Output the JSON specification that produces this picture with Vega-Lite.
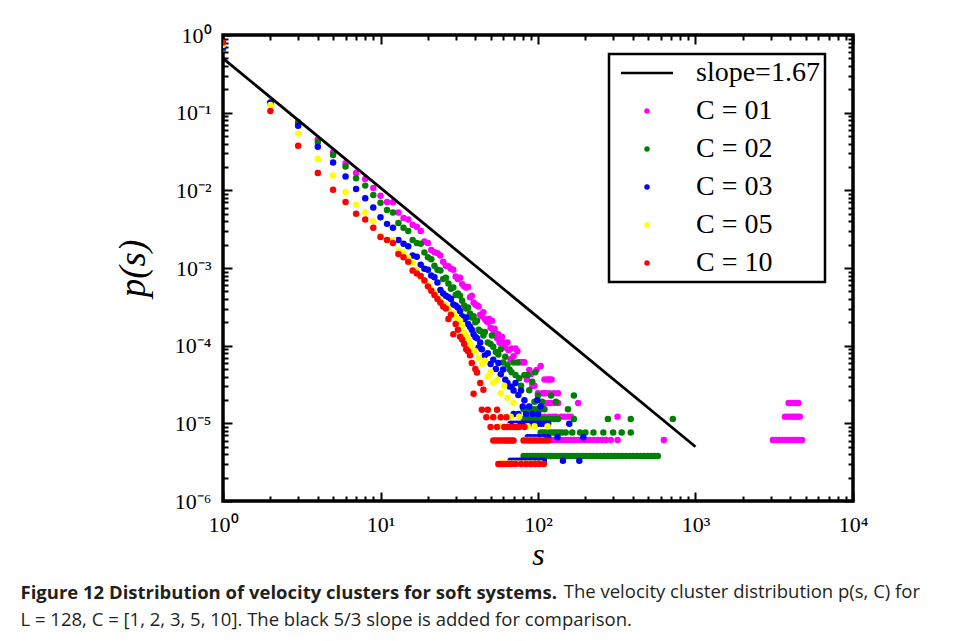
{
  "$schema": "https://vega.github.io/schema/vega-lite/v6.json",
  "background": "white",
  "padding": {"left": 18, "top": 22, "right": 5, "bottom": 5},
  "config": {
    "view": {"stroke": "black", "strokeWidth": 3.5},
    "axis": {"grid": false, "domain": false, "tickColor": "black", "tickWidth": 2, "labelFont": "Liberation Serif", "labelFontSize": 22, "labelColor": "black", "titleColor": "black", "labelFlush": false, "labelOverlap": false},
    "legend": {"strokeWidth": 2.5}
  },
  "datasets": {
    "slope": [{"s": 1, "p": 0.5}, {"s": 1000, "p": 5e-6}],
    "pts": [
      {"c":"01","s":1,"p":0.66},{"c":"01","s":2,"p":0.135},{"c":"01","s":3,"p":0.076},{"c":"01","s":4,"p":0.045},{"c":"01","s":5,"p":0.031},{"c":"01","s":6,"p":0.0223},{"c":"01","s":7,"p":0.0167},{"c":"01","s":8,"p":0.014},{"c":"01","s":9,"p":0.0107},{"c":"01","s":10,"p":0.0085},
      {"c":"01","s":11,"p":0.0071},{"c":"01","s":12,"p":0.007},{"c":"01","s":13,"p":0.0052},{"c":"01","s":14,"p":0.0044},{"c":"01","s":15,"p":0.0042},{"c":"01","s":16,"p":0.0036},{"c":"01","s":17,"p":0.0034},{"c":"01","s":18,"p":0.003},{"c":"01","s":19,"p":0.0022},{"c":"01","s":20,"p":0.0021},
      {"c":"01","s":21,"p":0.0017},{"c":"01","s":22,"p":0.0016},{"c":"01","s":23,"p":0.00155},{"c":"01","s":24,"p":0.00145},{"c":"01","s":25,"p":0.0012},{"c":"01","s":26,"p":0.00107},{"c":"01","s":27,"p":0.00105},{"c":"01","s":28,"p":0.00098},{"c":"01","s":29,"p":0.00095},{"c":"01","s":30,"p":0.00078},
      {"c":"01","s":31,"p":0.00072},{"c":"01","s":32,"p":0.00075},{"c":"01","s":33,"p":0.00062},{"c":"01","s":34,"p":0.00058},{"c":"01","s":35,"p":0.00056},{"c":"01","s":36,"p":0.00057},{"c":"01","s":37,"p":0.00042},{"c":"01","s":38,"p":0.00044},{"c":"01","s":39,"p":0.00036},{"c":"01","s":40,"p":0.00034},
      {"c":"01","s":41,"p":0.00033},{"c":"01","s":42,"p":0.00032},{"c":"01","s":43,"p":0.00025},{"c":"01","s":44,"p":0.00024},{"c":"01","s":45,"p":0.00027},{"c":"01","s":46,"p":0.00022},{"c":"01","s":47,"p":0.00021},{"c":"01","s":48,"p":0.0002},{"c":"01","s":49,"p":0.00022},{"c":"01","s":50,"p":0.00017},
      {"c":"01","s":51,"p":0.00021},{"c":"01","s":52,"p":0.00016},{"c":"01","s":53,"p":0.000165},{"c":"01","s":54,"p":0.00014},{"c":"01","s":55,"p":0.000125},{"c":"01","s":56,"p":0.00014},{"c":"01","s":57,"p":0.00011},{"c":"01","s":58,"p":0.000108},{"c":"01","s":59,"p":0.00013},{"c":"01","s":60,"p":0.00011},
      {"c":"01","s":62,"p":0.000095},{"c":"01","s":64,"p":0.00011},{"c":"01","s":65,"p":0.0000875},{"c":"01","s":67,"p":0.000067},{"c":"01","s":68,"p":0.000092},{"c":"01","s":70,"p":0.000073},{"c":"01","s":72,"p":0.000092},{"c":"01","s":74,"p":0.000085},{"c":"01","s":76,"p":0.000061},{"c":"01","s":78,"p":0.000061},
      {"c":"01","s":80,"p":0.000061},{"c":"01","s":82,"p":0.000061},{"c":"01","s":85,"p":0.0000366},{"c":"01","s":88,"p":0.0000488},{"c":"01","s":90,"p":0.0000427},{"c":"01","s":92,"p":0.0000305},{"c":"01","s":95,"p":0.0000305},{"c":"01","s":98,"p":0.0000488},{"c":"01","s":100,"p":0.0000244},{"c":"01","s":104,"p":0.0000549},
      {"c":"01","s":107,"p":0.0000244},{"c":"01","s":110,"p":0.0000366},{"c":"01","s":115,"p":0.0000366},{"c":"01","s":118,"p":0.0000366},{"c":"01","s":122,"p":0.0000366},
      {"c":"01","s":109,"p":0.0000244},{"c":"01","s":112,"p":0.0000244},{"c":"01","s":118,"p":0.0000244},{"c":"01","s":126,"p":0.0000244},{"c":"01","s":134,"p":0.0000244},
      {"c":"01","s":112,"p":0.0000183},{"c":"01","s":116,"p":0.0000183},{"c":"01","s":121,"p":0.0000183},{"c":"01","s":128,"p":0.0000183},{"c":"01","s":134,"p":0.0000183},{"c":"01","s":180,"p":0.0000183},
      {"c":"01","s":95,"p":0.0000122},{"c":"01","s":100,"p":0.0000122},{"c":"01","s":103,"p":0.0000122},{"c":"01","s":110,"p":0.0000122},{"c":"01","s":118,"p":0.0000122},{"c":"01","s":125,"p":0.0000122},{"c":"01","s":130,"p":0.0000122},{"c":"01","s":140,"p":0.0000122},{"c":"01","s":147,"p":0.0000122},{"c":"01","s":155,"p":0.0000122},{"c":"01","s":162,"p":0.0000122},{"c":"01","s":320,"p":0.0000122},
      {"c":"01","s":109,"p":0.0000061},{"c":"01","s":113,"p":0.0000061},{"c":"01","s":117,"p":0.0000061},{"c":"01","s":121,"p":0.0000061},{"c":"01","s":126,"p":0.0000061},{"c":"01","s":131,"p":0.0000061},{"c":"01","s":136,"p":0.0000061},{"c":"01","s":142,"p":0.0000061},{"c":"01","s":148,"p":0.0000061},{"c":"01","s":155,"p":0.0000061},{"c":"01","s":162,"p":0.0000061},{"c":"01","s":170,"p":0.0000061},
      {"c":"01","s":180,"p":0.0000061},{"c":"01","s":190,"p":0.0000061},{"c":"01","s":200,"p":0.0000061},{"c":"01","s":212,"p":0.0000061},{"c":"01","s":225,"p":0.0000061},{"c":"01","s":240,"p":0.0000061},{"c":"01","s":255,"p":0.0000061},{"c":"01","s":270,"p":0.0000061},{"c":"01","s":290,"p":0.0000061},{"c":"01","s":320,"p":0.0000061},{"c":"01","s":630,"p":0.0000061},
      {"c":"01","s":3100,"p":0.0000061},{"c":"01","s":3250,"p":0.0000061},{"c":"01","s":3400,"p":0.0000061},{"c":"01","s":3550,"p":0.0000061},{"c":"01","s":3700,"p":0.0000061},{"c":"01","s":3850,"p":0.0000061},{"c":"01","s":4000,"p":0.0000061},{"c":"01","s":4150,"p":0.0000061},{"c":"01","s":4300,"p":0.0000061},{"c":"01","s":4450,"p":0.0000061},{"c":"01","s":4600,"p":0.0000061},{"c":"01","s":4750,"p":0.0000061},
      {"c":"01","s":3700,"p":0.0000122},{"c":"01","s":3850,"p":0.0000122},{"c":"01","s":4000,"p":0.0000122},{"c":"01","s":4150,"p":0.0000122},{"c":"01","s":4300,"p":0.0000122},{"c":"01","s":4450,"p":0.0000122},{"c":"01","s":4600,"p":0.0000122},
      {"c":"01","s":3900,"p":0.0000183},{"c":"01","s":4050,"p":0.0000183},{"c":"01","s":4200,"p":0.0000183},{"c":"01","s":4350,"p":0.0000183},{"c":"01","s":4500,"p":0.0000183},

      {"c":"02","s":1,"p":0.67},{"c":"02","s":2,"p":0.135},{"c":"02","s":3,"p":0.074},{"c":"02","s":4,"p":0.042},{"c":"02","s":5,"p":0.0285},{"c":"02","s":6,"p":0.0202},{"c":"02","s":7,"p":0.0143},{"c":"02","s":8,"p":0.0115},{"c":"02","s":9,"p":0.0087},{"c":"02","s":10,"p":0.0069},
      {"c":"02","s":11,"p":0.0056},{"c":"02","s":12,"p":0.0052},{"c":"02","s":13,"p":0.0038},{"c":"02","s":14,"p":0.0033},{"c":"02","s":15,"p":0.003},{"c":"02","s":16,"p":0.0023},{"c":"02","s":17,"p":0.0021},{"c":"02","s":18,"p":0.00205},{"c":"02","s":19,"p":0.00158},{"c":"02","s":20,"p":0.00138},
      {"c":"02","s":21,"p":0.0013},{"c":"02","s":22,"p":0.00107},{"c":"02","s":23,"p":0.00095},{"c":"02","s":24,"p":0.00093},{"c":"02","s":25,"p":0.00072},{"c":"02","s":26,"p":0.00075},{"c":"02","s":27,"p":0.00063},{"c":"02","s":28,"p":0.00054},{"c":"02","s":29,"p":0.00056},{"c":"02","s":30,"p":0.00045},
      {"c":"02","s":31,"p":0.00047},{"c":"02","s":32,"p":0.00044},{"c":"02","s":33,"p":0.00038},{"c":"02","s":34,"p":0.00033},{"c":"02","s":35,"p":0.0003},{"c":"02","s":36,"p":0.00031},{"c":"02","s":37,"p":0.00026},{"c":"02","s":38,"p":0.00023},{"c":"02","s":39,"p":0.00024},{"c":"02","s":40,"p":0.0002},
      {"c":"02","s":41,"p":0.00021},{"c":"02","s":42,"p":0.00016},{"c":"02","s":43,"p":0.000155},{"c":"02","s":45,"p":0.000135},{"c":"02","s":46,"p":0.00015},{"c":"02","s":48,"p":0.00011},{"c":"02","s":50,"p":0.000105},{"c":"02","s":51,"p":0.000135},{"c":"02","s":52,"p":0.000097},{"c":"02","s":54,"p":0.000083},
      {"c":"02","s":56,"p":0.000077},{"c":"02","s":58,"p":0.00009},{"c":"02","s":60,"p":0.0000608},{"c":"02","s":62,"p":0.000072},{"c":"02","s":64,"p":0.000057},{"c":"02","s":66,"p":0.0000494},{"c":"02","s":68,"p":0.0000456},{"c":"02","s":70,"p":0.0000608},{"c":"02","s":72,"p":0.0000418},{"c":"02","s":74,"p":0.0000608},
      {"c":"02","s":76,"p":0.000038},{"c":"02","s":78,"p":0.0000304},{"c":"02","s":82,"p":0.0000418},{"c":"02","s":86,"p":0.0000418},{"c":"02","s":88,"p":0.0000266},{"c":"02","s":92,"p":0.0000342},{"c":"02","s":96,"p":0.0000456},{"c":"02","s":100,"p":0.0000228},
      {"c":"02","s":95,"p":0.000019},{"c":"02","s":106,"p":0.000019},{"c":"02","s":130,"p":0.000019},{"c":"02","s":169,"p":0.0000228},{"c":"02","s":121,"p":0.0000228},
      {"c":"02","s":81,"p":0.0000152},{"c":"02","s":85,"p":0.0000152},{"c":"02","s":90,"p":0.0000152},{"c":"02","s":95,"p":0.0000152},{"c":"02","s":100,"p":0.0000152},{"c":"02","s":105,"p":0.0000152},{"c":"02","s":110,"p":0.0000152},{"c":"02","s":155,"p":0.0000152},
      {"c":"02","s":81,"p":0.0000114},{"c":"02","s":84,"p":0.0000114},{"c":"02","s":87,"p":0.0000114},{"c":"02","s":90,"p":0.0000114},{"c":"02","s":94,"p":0.0000114},{"c":"02","s":98,"p":0.0000114},{"c":"02","s":102,"p":0.0000114},{"c":"02","s":106,"p":0.0000114},{"c":"02","s":110,"p":0.0000114},{"c":"02","s":115,"p":0.0000114},{"c":"02","s":120,"p":0.0000114},{"c":"02","s":127,"p":0.0000114},{"c":"02","s":134,"p":0.0000114},{"c":"02","s":169,"p":0.0000114},{"c":"02","s":278,"p":0.0000114},{"c":"02","s":388,"p":0.0000114},{"c":"02","s":718,"p":0.0000114},
      {"c":"02","s":104,"p":0.0000076},{"c":"02","s":108,"p":0.0000076},{"c":"02","s":112,"p":0.0000076},{"c":"02","s":116,"p":0.0000076},{"c":"02","s":120,"p":0.0000076},{"c":"02","s":125,"p":0.0000076},{"c":"02","s":130,"p":0.0000076},{"c":"02","s":136,"p":0.0000076},{"c":"02","s":142,"p":0.0000076},{"c":"02","s":150,"p":0.0000076},{"c":"02","s":165,"p":0.0000076},{"c":"02","s":185,"p":0.0000076},{"c":"02","s":200,"p":0.0000076},{"c":"02","s":225,"p":0.0000076},{"c":"02","s":260,"p":0.0000076},{"c":"02","s":300,"p":0.0000076},{"c":"02","s":340,"p":0.0000076},{"c":"02","s":388,"p":0.0000076},
      {"c":"02","s":81,"p":0.0000038},{"c":"02","s":85,"p":0.0000038},{"c":"02","s":89,"p":0.0000038},{"c":"02","s":93,"p":0.0000038},{"c":"02","s":97,"p":0.0000038},{"c":"02","s":101,"p":0.0000038},{"c":"02","s":106,"p":0.0000038},{"c":"02","s":111,"p":0.0000038},{"c":"02","s":116,"p":0.0000038},{"c":"02","s":121,"p":0.0000038},{"c":"02","s":127,"p":0.0000038},{"c":"02","s":133,"p":0.0000038},{"c":"02","s":139,"p":0.0000038},{"c":"02","s":146,"p":0.0000038},
      {"c":"02","s":153,"p":0.0000038},{"c":"02","s":160,"p":0.0000038},{"c":"02","s":168,"p":0.0000038},{"c":"02","s":176,"p":0.0000038},{"c":"02","s":185,"p":0.0000038},{"c":"02","s":194,"p":0.0000038},{"c":"02","s":204,"p":0.0000038},{"c":"02","s":214,"p":0.0000038},{"c":"02","s":225,"p":0.0000038},{"c":"02","s":237,"p":0.0000038},{"c":"02","s":250,"p":0.0000038},{"c":"02","s":263,"p":0.0000038},{"c":"02","s":277,"p":0.0000038},
      {"c":"02","s":292,"p":0.0000038},{"c":"02","s":308,"p":0.0000038},{"c":"02","s":325,"p":0.0000038},{"c":"02","s":343,"p":0.0000038},{"c":"02","s":362,"p":0.0000038},{"c":"02","s":382,"p":0.0000038},{"c":"02","s":403,"p":0.0000038},{"c":"02","s":425,"p":0.0000038},{"c":"02","s":448,"p":0.0000038},{"c":"02","s":472,"p":0.0000038},{"c":"02","s":498,"p":0.0000038},{"c":"02","s":525,"p":0.0000038},{"c":"02","s":550,"p":0.0000038},{"c":"02","s":576,"p":0.0000038},

      {"c":"03","s":1,"p":0.7},{"c":"03","s":2,"p":0.133},{"c":"03","s":3,"p":0.068},{"c":"03","s":4,"p":0.0365},{"c":"03","s":5,"p":0.0229},{"c":"03","s":6,"p":0.0151},{"c":"03","s":7,"p":0.0104},{"c":"03","s":8,"p":0.0079},{"c":"03","s":9,"p":0.006},{"c":"03","s":10,"p":0.0045},
      {"c":"03","s":11,"p":0.0037},{"c":"03","s":12,"p":0.0033},{"c":"03","s":13,"p":0.0023},{"c":"03","s":14,"p":0.00205},{"c":"03","s":15,"p":0.0019},{"c":"03","s":16,"p":0.00145},{"c":"03","s":17,"p":0.0014},{"c":"03","s":18,"p":0.0011},{"c":"03","s":19,"p":0.00098},{"c":"03","s":20,"p":0.00095},
      {"c":"03","s":21,"p":0.0008},{"c":"03","s":22,"p":0.00076},{"c":"03","s":23,"p":0.00065},{"c":"03","s":24,"p":0.00052},{"c":"03","s":25,"p":0.00047},{"c":"03","s":26,"p":0.00044},{"c":"03","s":27,"p":0.00042},{"c":"03","s":28,"p":0.0004},{"c":"03","s":29,"p":0.00034},{"c":"03","s":30,"p":0.00033},
      {"c":"03","s":31,"p":0.00031},{"c":"03","s":32,"p":0.00028},{"c":"03","s":33,"p":0.00024},{"c":"03","s":34,"p":0.00022},{"c":"03","s":35,"p":0.00023},{"c":"03","s":36,"p":0.00019},{"c":"03","s":37,"p":0.000175},{"c":"03","s":38,"p":0.00016},{"c":"03","s":39,"p":0.00014},{"c":"03","s":40,"p":0.000129},
      {"c":"03","s":41,"p":0.000125},{"c":"03","s":42,"p":0.000095},{"c":"03","s":43,"p":0.00011},{"c":"03","s":44,"p":0.00009},{"c":"03","s":46,"p":0.000075},{"c":"03","s":48,"p":0.00008},{"c":"03","s":50,"p":0.000058},{"c":"03","s":52,"p":0.000066},{"c":"03","s":54,"p":0.00005},{"c":"03","s":56,"p":0.00006},
      {"c":"03","s":58,"p":0.0000429},{"c":"03","s":60,"p":0.0000495},{"c":"03","s":62,"p":0.0000363},{"c":"03","s":64,"p":0.000033},{"c":"03","s":66,"p":0.0000297},{"c":"03","s":68,"p":0.0000297},{"c":"03","s":70,"p":0.0000264},{"c":"03","s":72,"p":0.000033},{"c":"03","s":75,"p":0.0000231},{"c":"03","s":78,"p":0.0000264},
      {"c":"03","s":82,"p":0.0000198},{"c":"03","s":88,"p":0.0000165},{"c":"03","s":99,"p":0.0000198},
      {"c":"03","s":80,"p":0.0000165},{"c":"03","s":104,"p":0.0000165},
      {"c":"03","s":70,"p":0.0000132},{"c":"03","s":75,"p":0.0000132},{"c":"03","s":84,"p":0.0000132},{"c":"03","s":92,"p":0.0000132},{"c":"03","s":100,"p":0.0000132},
      {"c":"03","s":67,"p":0.0000099},{"c":"03","s":70,"p":0.0000099},{"c":"03","s":73,"p":0.0000099},{"c":"03","s":76,"p":0.0000099},{"c":"03","s":80,"p":0.0000099},{"c":"03","s":84,"p":0.0000099},{"c":"03","s":88,"p":0.0000099},{"c":"03","s":92,"p":0.0000099},{"c":"03","s":96,"p":0.0000099},{"c":"03","s":100,"p":0.0000099},{"c":"03","s":105,"p":0.0000099},{"c":"03","s":110,"p":0.0000099},{"c":"03","s":116,"p":0.0000099},{"c":"03","s":158,"p":0.0000099},
      {"c":"03","s":86,"p":0.0000066},{"c":"03","s":90,"p":0.0000066},{"c":"03","s":95,"p":0.0000066},{"c":"03","s":100,"p":0.0000066},{"c":"03","s":105,"p":0.0000066},{"c":"03","s":110,"p":0.0000066},{"c":"03","s":116,"p":0.0000066},{"c":"03","s":133,"p":0.0000066},{"c":"03","s":194,"p":0.0000066},
      {"c":"03","s":67,"p":0.0000033},{"c":"03","s":70,"p":0.0000033},{"c":"03","s":73,"p":0.0000033},{"c":"03","s":76,"p":0.0000033},{"c":"03","s":79,"p":0.0000033},{"c":"03","s":82,"p":0.0000033},{"c":"03","s":86,"p":0.0000033},{"c":"03","s":90,"p":0.0000033},{"c":"03","s":94,"p":0.0000033},{"c":"03","s":98,"p":0.0000033},{"c":"03","s":102,"p":0.0000033},{"c":"03","s":106,"p":0.0000033},{"c":"03","s":109,"p":0.0000033},{"c":"03","s":144,"p":0.0000033},{"c":"03","s":183,"p":0.0000033},

      {"c":"05","s":1,"p":0.75},{"c":"05","s":2,"p":0.126},{"c":"05","s":3,"p":0.054},{"c":"05","s":4,"p":0.0253},{"c":"05","s":5,"p":0.0155},{"c":"05","s":6,"p":0.0095},{"c":"05","s":7,"p":0.0065},{"c":"05","s":8,"p":0.0052},{"c":"05","s":9,"p":0.004},{"c":"05","s":10,"p":0.0026},
      {"c":"05","s":11,"p":0.0023},{"c":"05","s":12,"p":0.0023},{"c":"05","s":13,"p":0.00166},{"c":"05","s":14,"p":0.00155},{"c":"05","s":15,"p":0.00135},{"c":"05","s":16,"p":0.00117},{"c":"05","s":17,"p":0.00095},{"c":"05","s":18,"p":0.00076},{"c":"05","s":19,"p":0.0007},{"c":"05","s":20,"p":0.00062},
      {"c":"05","s":21,"p":0.00054},{"c":"05","s":22,"p":0.00048},{"c":"05","s":23,"p":0.00042},{"c":"05","s":24,"p":0.00038},{"c":"05","s":25,"p":0.00034},{"c":"05","s":26,"p":0.00033},{"c":"05","s":27,"p":0.0003},{"c":"05","s":28,"p":0.00027},{"c":"05","s":29,"p":0.00026},{"c":"05","s":30,"p":0.00023},
      {"c":"05","s":31,"p":0.00022},{"c":"05","s":32,"p":0.00021},{"c":"05","s":33,"p":0.00018},{"c":"05","s":34,"p":0.000148},{"c":"05","s":35,"p":0.00013},{"c":"05","s":36,"p":0.00012},{"c":"05","s":37,"p":0.000105},{"c":"05","s":38,"p":0.00009},{"c":"05","s":40,"p":0.000085},{"c":"05","s":42,"p":0.00007},
      {"c":"05","s":44,"p":0.000058},{"c":"05","s":46,"p":0.000064},{"c":"05","s":48,"p":0.0000397},{"c":"05","s":50,"p":0.0000458},{"c":"05","s":52,"p":0.0000336},{"c":"05","s":55,"p":0.0000366},{"c":"05","s":58,"p":0.0000244},{"c":"05","s":61,"p":0.0000305},{"c":"05","s":64,"p":0.0000214},{"c":"05","s":70,"p":0.0000183},
      {"c":"05","s":52,"p":0.0000122},{"c":"05","s":60,"p":0.0000122},{"c":"05","s":67,"p":0.0000122},{"c":"05","s":76,"p":0.0000122},
      {"c":"05","s":58,"p":0.00000915},{"c":"05","s":64,"p":0.00000915},{"c":"05","s":72,"p":0.00000915},{"c":"05","s":86,"p":0.00000915},{"c":"05","s":95,"p":0.00000915},{"c":"05","s":115,"p":0.00000915},
      {"c":"05","s":81,"p":0.0000061},{"c":"05","s":84,"p":0.0000061},{"c":"05","s":87,"p":0.0000061},{"c":"05","s":90,"p":0.0000061},{"c":"05","s":93,"p":0.0000061},{"c":"05","s":96,"p":0.0000061},{"c":"05","s":99,"p":0.0000061},{"c":"05","s":106,"p":0.0000061},
      {"c":"05","s":58,"p":0.00000305},{"c":"05","s":61,"p":0.00000305},{"c":"05","s":64,"p":0.00000305},{"c":"05","s":67,"p":0.00000305},{"c":"05","s":70,"p":0.00000305},{"c":"05","s":73,"p":0.00000305},{"c":"05","s":77,"p":0.00000305},{"c":"05","s":81,"p":0.00000305},{"c":"05","s":85,"p":0.00000305},{"c":"05","s":89,"p":0.00000305},{"c":"05","s":93,"p":0.00000305},{"c":"05","s":98,"p":0.00000305},{"c":"05","s":104,"p":0.00000305},

      {"c":"10","s":1,"p":0.8},{"c":"10","s":2,"p":0.105},{"c":"10","s":3,"p":0.0376},{"c":"10","s":4,"p":0.0167},{"c":"10","s":5,"p":0.0102},{"c":"10","s":6,"p":0.0071},{"c":"10","s":7,"p":0.005},{"c":"10","s":8,"p":0.0042},{"c":"10","s":9,"p":0.0033},{"c":"10","s":10,"p":0.0025},
      {"c":"10","s":11,"p":0.0023},{"c":"10","s":12,"p":0.0021},{"c":"10","s":13,"p":0.00151},{"c":"10","s":14,"p":0.00138},{"c":"10","s":15,"p":0.0012},{"c":"10","s":16,"p":0.00093},{"c":"10","s":17,"p":0.00085},{"c":"10","s":18,"p":0.00079},{"c":"10","s":19,"p":0.00069},{"c":"10","s":20,"p":0.00058},
      {"c":"10","s":21,"p":0.00051},{"c":"10","s":22,"p":0.00045},{"c":"10","s":23,"p":0.0004},{"c":"10","s":24,"p":0.00036},{"c":"10","s":25,"p":0.00032},{"c":"10","s":26,"p":0.0003},{"c":"10","s":27,"p":0.00022},{"c":"10","s":28,"p":0.00025},{"c":"10","s":29,"p":0.00014},{"c":"10","s":30,"p":0.00019},
      {"c":"10","s":31,"p":0.00016},{"c":"10","s":32,"p":0.00013},{"c":"10","s":33,"p":0.00012},{"c":"10","s":34,"p":0.000105},{"c":"10","s":35,"p":0.00009},{"c":"10","s":36,"p":0.000085},{"c":"10","s":37,"p":0.000075},{"c":"10","s":38,"p":0.00006},{"c":"10","s":39,"p":0.000024},{"c":"10","s":40,"p":0.00005},
      {"c":"10","s":41,"p":0.000045},{"c":"10","s":43,"p":0.000033},{"c":"10","s":45,"p":0.000027},
      {"c":"10","s":44,"p":0.000015},{"c":"10","s":48,"p":0.000015},{"c":"10","s":55,"p":0.000015},
      {"c":"10","s":47,"p":0.000012},{"c":"10","s":52,"p":0.000012},{"c":"10","s":58,"p":0.000012},{"c":"10","s":63,"p":0.000012},
      {"c":"10","s":50,"p":0.000009},{"c":"10","s":55,"p":0.000009},{"c":"10","s":61,"p":0.000009},{"c":"10","s":64,"p":0.000009},{"c":"10","s":67,"p":0.000009},{"c":"10","s":70,"p":0.000009},{"c":"10","s":73,"p":0.000009},{"c":"10","s":76,"p":0.000009},{"c":"10","s":82,"p":0.000009},
      {"c":"10","s":52,"p":0.000006},{"c":"10","s":54,"p":0.000006},{"c":"10","s":56,"p":0.000006},{"c":"10","s":58,"p":0.000006},{"c":"10","s":60,"p":0.000006},{"c":"10","s":62,"p":0.000006},{"c":"10","s":64,"p":0.000006},{"c":"10","s":66,"p":0.000006},{"c":"10","s":68,"p":0.000006},{"c":"10","s":70,"p":0.000006},{"c":"10","s":81,"p":0.000006},{"c":"10","s":85,"p":0.000006},{"c":"10","s":89,"p":0.000006},{"c":"10","s":93,"p":0.000006},{"c":"10","s":97,"p":0.000006},{"c":"10","s":101,"p":0.000006},{"c":"10","s":105,"p":0.000006},{"c":"10","s":110,"p":0.000006},{"c":"10","s":116,"p":0.000006},
      {"c":"10","s":56,"p":0.000003},{"c":"10","s":58,"p":0.000003},{"c":"10","s":60,"p":0.000003},{"c":"10","s":62,"p":0.000003},{"c":"10","s":65,"p":0.000003},{"c":"10","s":68,"p":0.000003},{"c":"10","s":72,"p":0.000003},{"c":"10","s":78,"p":0.000003},{"c":"10","s":84,"p":0.000003},{"c":"10","s":90,"p":0.000003},{"c":"10","s":96,"p":0.000003},{"c":"10","s":102,"p":0.000003},{"c":"10","s":109,"p":0.000003}
    ]
  },
  "title": {
    "text": "The velocity cluster distribution p(s, C) for",
    "orient": "bottom", "anchor": "start", "dx": 545, "dy": -48, "offset": 0,
    "font": "Open Sans, Roboto, sans-serif",
    "fontSize": 18.5, "fontWeight": "normal", "color": "#231f20"
  },
  "vconcat": [
    {
      "width": 630,
      "height": 466,
      "title": {
        "text": "Figure 12 Distribution of velocity clusters for soft systems.",
        "subtitle": "L = 128, C = [1, 2, 3, 5, 10]. The black 5/3 slope is added for comparison.",
        "orient": "bottom", "anchor": "start", "frame": "group", "dx": -202.5, "offset": 14,
        "font": "Open Sans, Roboto, sans-serif",
        "fontSize": 18.5, "fontWeight": "bold", "color": "#231f20",
        "subtitleFont": "Open Sans, Roboto, sans-serif",
        "subtitleFontSize": 18.5, "subtitleColor": "#231f20", "subtitlePadding": 8
      },
      "resolve": {"axis": {"x": "independent", "y": "independent"}},
      "layer": [
        {
          "data": {"name": "pts"},
          "mark": {"type": "point", "filled": true, "opacity": 1, "clip": true, "size": 42},
          "encoding": {
            "x": {"field": "s", "type": "quantitative",
              "scale": {"type": "log", "domain": [1, 10000]},
              "axis": {"orient": "bottom",
                "values": [1,2,3,4,5,6,7,8,9,10,20,30,40,50,60,70,80,90,100,200,300,400,500,600,700,800,900,1000,2000,3000,4000,5000,6000,7000,8000,9000,10000],
                "labelExpr": "abs(log(datum.value)/LN10 - round(log(datum.value)/LN10)) < 0.001 ? '10' + (round(log(datum.value)/LN10) < 0 ? '⁻' : '') + ['⁰','¹','²','³','⁴','⁵','⁶'][abs(round(log(datum.value)/LN10))] : ''",
                "tickSize": {"condition": {"test": "abs(log(datum.value)/LN10 - round(log(datum.value)/LN10)) < 0.001", "value": -9}, "value": -5},
                "labelPadding": 22,
                "title": "s", "titleFont": "Liberation Serif", "titleFontStyle": "italic", "titleFontWeight": "normal", "titleFontSize": 32, "titlePadding": 0}},
            "y": {"field": "p", "type": "quantitative",
              "scale": {"type": "log", "domain": [0.000001, 1]},
              "axis": {"orient": "left",
                "values": [0.000001,0.000002,0.000003,0.000004,0.000005,0.000006,0.000007,0.000008,0.000009,0.00001,0.00002,0.00003,0.00004,0.00005,0.00006,0.00007,0.00008,0.00009,0.0001,0.0002,0.0003,0.0004,0.0005,0.0006,0.0007,0.0008,0.0009,0.001,0.002,0.003,0.004,0.005,0.006,0.007,0.008,0.009,0.01,0.02,0.03,0.04,0.05,0.06,0.07,0.08,0.09,0.1,0.2,0.3,0.4,0.5,0.6,0.7,0.8,0.9,1],
                "labelExpr": "abs(log(datum.value)/LN10 - round(log(datum.value)/LN10)) < 0.001 ? '10' + (round(log(datum.value)/LN10) < 0 ? '⁻' : '') + ['⁰','¹','²','³','⁴','⁵','⁶'][abs(round(log(datum.value)/LN10))] : ''",
                "tickSize": {"condition": {"test": "abs(log(datum.value)/LN10 - round(log(datum.value)/LN10)) < 0.001", "value": -9}, "value": -5},
                "labelPadding": 21,
                "title": "p(s)", "titleFont": "Liberation Serif", "titleFontStyle": "italic", "titleFontWeight": "normal", "titleFontSize": 37, "titlePadding": 22}},
            "color": {"field": "c", "type": "nominal",
              "scale": {"domain": ["slope=1.67", "01", "02", "03", "05", "10"], "range": ["black", "#ff00ff", "#008000", "#0000ff", "#ffff00", "#ff0000"]},
              "legend": {"orient": "none", "legendX": 386, "legendY": 19, "title": null,
                "labelFont": "Liberation Serif", "labelFontSize": 28, "labelColor": "black",
                "labelExpr": "(datum.label == 'slope=1.67' ? datum.label : 'C = ' + datum.label) + '\u00a0\u00a0'",
                "strokeColor": "black", "fillColor": "white", "padding": 5, "rowPadding": 10,
                "symbolOffset": 19, "labelOffset": 35, "symbolSize": 30, "symbolStrokeWidth": 0}},
            "shape": {"field": "c", "type": "nominal",
              "scale": {"domain": ["slope=1.67", "01", "02", "03", "05", "10"], "range": ["M-9.5,-0.45H9.5V0.45H-9.5Z", "circle", "circle", "circle", "circle", "circle"]},
              "legend": {"orient": "none", "legendX": 386, "legendY": 19, "title": null,
                "labelFont": "Liberation Serif", "labelFontSize": 28, "labelColor": "black",
                "labelExpr": "(datum.label == 'slope=1.67' ? datum.label : 'C = ' + datum.label) + '\u00a0\u00a0'",
                "strokeColor": "black", "fillColor": "white", "padding": 5, "rowPadding": 10,
                "symbolOffset": 19, "labelOffset": 35, "symbolSize": 30, "symbolStrokeWidth": 0}}
          }
        },
        {
          "data": {"name": "slope"},
          "mark": {"type": "line", "color": "black", "strokeWidth": 2.8, "clip": true},
          "encoding": {
            "x": {"field": "s", "type": "quantitative",
              "scale": {"type": "log", "domain": [1, 10000]},
              "axis": {"orient": "top", "labels": false, "title": null,
                "values": [1,2,3,4,5,6,7,8,9,10,20,30,40,50,60,70,80,90,100,200,300,400,500,600,700,800,900,1000,2000,3000,4000,5000,6000,7000,8000,9000,10000],
                "tickSize": {"condition": {"test": "abs(log(datum.value)/LN10 - round(log(datum.value)/LN10)) < 0.001", "value": -9}, "value": -5}}},
            "y": {"field": "p", "type": "quantitative",
              "scale": {"type": "log", "domain": [0.000001, 1]},
              "axis": {"orient": "right", "labels": false, "title": null,
                "values": [0.000001,0.000002,0.000003,0.000004,0.000005,0.000006,0.000007,0.000008,0.000009,0.00001,0.00002,0.00003,0.00004,0.00005,0.00006,0.00007,0.00008,0.00009,0.0001,0.0002,0.0003,0.0004,0.0005,0.0006,0.0007,0.0008,0.0009,0.001,0.002,0.003,0.004,0.005,0.006,0.007,0.008,0.009,0.01,0.02,0.03,0.04,0.05,0.06,0.07,0.08,0.09,0.1,0.2,0.3,0.4,0.5,0.6,0.7,0.8,0.9,1],
                "tickSize": {"condition": {"test": "abs(log(datum.value)/LN10 - round(log(datum.value)/LN10)) < 0.001", "value": -9}, "value": -5}}}
          }
        }
      ]
    }
  ]
}
